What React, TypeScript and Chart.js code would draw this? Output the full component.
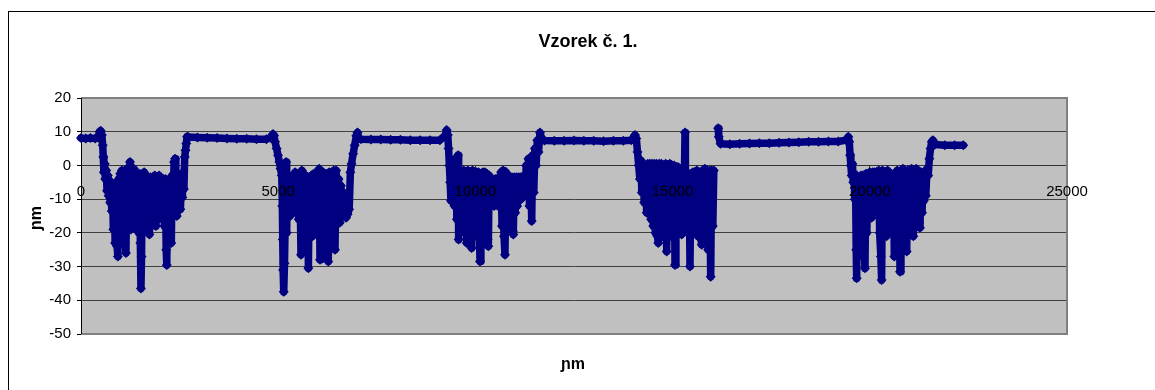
import React, { useEffect, useRef } from "react";
import { Chart, registerables } from "chart.js";

Chart.register(...registerables);

const TITLE = "Vzorek č. 1.";
const X_TITLE = "ɲm";
const Y_TITLE = "ɲm";
const X_TICKS = [0, 5000, 10000, 15000, 20000, 25000];
const Y_TICKS = [-50, -40, -30, -20, -10, 0, 10, 20];
const NAVY = "#000080";
const FONT = "'Liberation Sans', Arial, sans-serif";

type P = [number, number];

const plateau1: P[] = [[0, 8.1], [120, 8.0], [240, 8.1], [360, 8.0], [440, 8.2]];

const pit1: P[] = [
  [470, 10.0], [500, 10.3], [530, 9.0], [550, 6.0], [565, 2.5], [580, -2.0], [600, 0.5], [615, -4.0],
  [640, -1.5], [660, -7.5], [680, -3.0], [700, -9.0], [720, -4.5], [740, -11.0], [760, -5.0], [780, -13.5],
  [800, -6.5], [820, -19.0], [840, -5.5], [865, -23.0], [885, -6.0], [915, -24.0], [935, -27.0], [955, -4.0],
  [975, -20.0], [995, -2.5], [1015, -16.0], [1035, -1.5], [1060, -14.0], [1080, -2.5], [1110, -21.0],
  [1140, -26.0], [1160, -1.0], [1180, -18.0], [1200, -3.5], [1220, -15.0], [1242, 1.0], [1265, -19.0],
  [1290, -2.0], [1315, -14.0], [1340, -1.0], [1365, -18.5], [1390, -2.0], [1415, -15.0], [1440, -3.0],
  [1465, -20.0], [1490, -2.5], [1505, -23.0], [1520, -36.5], [1535, -27.0], [1550, -4.0], [1575, -16.0],
  [1600, -2.0], [1625, -19.5], [1650, -3.0], [1680, -17.0], [1705, -4.0], [1735, -20.5], [1760, -3.5],
  [1790, -15.0], [1815, -4.0], [1845, -17.5], [1870, -3.0], [1900, -18.0], [1925, -5.0], [1955, -16.0],
  [1980, -3.0], [2005, -14.0], [2035, -5.0], [2060, -12.0], [2090, -4.0], [2115, -18.0], [2140, -4.0],
  [2160, -25.0], [2175, -29.5], [2195, -5.0], [2220, -18.0], [2245, -6.0], [2270, -16.0], [2290, -23.0],
  [2310, -3.0], [2335, -12.0], [2360, 1.0], [2385, 2.0], [2405, -10.0], [2430, -15.0], [2450, -4.0],
  [2470, -9.0], [2495, -4.5], [2520, -13.0], [2545, -6.0], [2570, -9.5], [2590, -2.0], [2610, -7.0],
  [2630, 2.5], [2650, 4.5], [2670, 6.5], [2690, 8.5],
];

const plateau2: P[] = [
  [2720, 8.4], [2950, 8.3], [3200, 8.2], [3450, 8.1], [3700, 8.0], [3950, 7.9], [4200, 7.9],
  [4450, 7.8], [4700, 7.8], [4800, 8.2],
];

const pit2: P[] = [
  [4868, 9.3], [4895, 8.8], [4920, 7.0], [4960, 5.0], [4995, 3.0], [5030, 1.0], [5060, -1.0], [5090, -3.0],
  [5105, -12.0], [5115, -22.0], [5125, -31.0], [5140, -37.5], [5160, -29.0], [5180, -14.0], [5200, 1.0],
  [5215, -20.0], [5230, -5.0], [5250, -12.0], [5275, -3.5], [5300, -15.0], [5325, -4.0], [5350, -14.0],
  [5375, -3.0], [5400, -12.0], [5430, -2.0], [5460, -14.0], [5490, -3.0], [5520, -16.0], [5550, -4.0],
  [5578, -26.5], [5600, -1.5], [5625, -15.0], [5650, -4.0], [5675, -18.0], [5700, -3.0], [5730, -20.0],
  [5750, -5.0], [5765, -30.5], [5790, -4.0], [5815, -20.0], [5840, -3.0], [5870, -21.0], [5900, -2.5],
  [5930, -18.0], [5960, -3.0], [5990, -20.5], [6020, -1.5], [6040, -1.0], [6060, -28.0], [6085, -3.0],
  [6110, -20.0], [6140, -2.0], [6165, -21.0], [6190, -3.0], [6220, -18.0], [6250, -2.5], [6270, -28.5],
  [6295, -2.0], [6320, -20.0], [6350, -3.0], [6380, -18.0], [6410, -1.5], [6440, -25.0], [6470, -1.5],
  [6500, -12.0], [6530, -4.0], [6560, -17.0], [6590, -6.0], [6620, -14.0], [6650, -8.0], [6680, -15.0],
  [6720, -15.5], [6760, -14.5], [6800, -13.0], [6830, -2.0], [6860, 0.5], [6900, 3.5], [6940, 6.0],
  [6980, 8.8], [7010, 9.8], [7040, 8.0],
];

const plateau3: P[] = [
  [7100, 7.8], [7350, 7.7], [7600, 7.7], [7850, 7.6], [8100, 7.6], [8350, 7.5], [8600, 7.5],
  [8850, 7.5], [9100, 7.5], [9200, 8.5],
];

const pit3: P[] = [
  [9240, 9.0], [9272, 10.5], [9300, 9.0], [9320, 5.0], [9340, 0.0], [9360, -5.0], [9380, -10.5],
  [9400, -3.0], [9420, -9.0], [9445, 0.0], [9470, -12.0], [9500, 2.0], [9530, -16.0], [9560, 3.0],
  [9575, -22.0], [9600, -1.5], [9625, -15.0], [9650, -2.0], [9680, -18.0], [9705, -1.5], [9740, -20.0],
  [9765, -2.0], [9780, -23.0], [9805, -1.5], [9830, -17.0], [9855, -2.0], [9880, -20.0], [9905, -24.5],
  [9925, -1.5], [9950, -19.0], [9975, -2.0], [10000, -17.0], [10025, -2.0], [10050, -21.0], [10075, -2.0],
  [10100, -20.0], [10117, -28.5], [10140, -2.5], [10165, -18.0], [10190, -2.0], [10215, -21.0],
  [10240, -2.0], [10265, -20.0], [10290, -2.5], [10310, -22.0], [10328, -24.0], [10350, -3.0],
  [10375, -12.0], [10400, -4.5], [10425, -11.0], [10450, -4.5], [10475, -12.0], [10500, -4.0],
  [10525, -10.0], [10550, -4.5], [10575, -12.0], [10600, -3.5], [10625, -9.0], [10650, -2.0],
  [10675, -18.0], [10700, -1.5], [10725, -21.0], [10750, -26.5], [10775, -2.0], [10800, -15.0],
  [10825, -3.0], [10850, -16.0], [10875, -3.5], [10900, -18.0], [10925, -3.5], [10950, -19.5],
  [10961, -20.5], [10985, -3.5], [11010, -14.0], [11035, -3.5], [11060, -12.0], [11085, -3.5],
  [11110, -9.0], [11135, -3.5], [11160, -10.0], [11185, -3.5], [11210, -9.0], [11235, -3.0],
  [11260, -8.0], [11290, 0.0], [11320, -9.0], [11345, 2.0], [11370, -12.0], [11400, 1.0],
  [11428, -16.5], [11450, 3.0], [11480, -8.0], [11510, 5.0], [11540, 0.0], [11570, 7.5], [11600, 4.0],
  [11638, 9.8], [11680, 8.0],
];

const plateau4: P[] = [
  [11750, 7.4], [12000, 7.3], [12250, 7.3], [12500, 7.4], [12750, 7.3], [13000, 7.3], [13250, 7.2],
  [13500, 7.3], [13750, 7.3], [13950, 7.5],
];

const pit4: P[] = [
  [14047, 9.0], [14080, 8.0], [14110, 4.0], [14140, 0.0], [14170, -4.0], [14195, 1.5], [14220, -8.0],
  [14250, 0.5], [14280, -11.0], [14310, -1.0], [14343, -14.0], [14370, 0.5], [14400, -12.0], [14425, 0.5],
  [14455, -16.0], [14480, 0.5], [14510, -18.0], [14535, 0.5], [14565, -20.0], [14590, 0.5], [14615, -21.0],
  [14638, -23.0], [14660, 0.5], [14690, -19.0], [14715, 0.5], [14745, -21.0], [14770, 0.0], [14800, -20.0],
  [14825, 0.5], [14850, -25.5], [14875, 0.0], [14905, -18.0], [14930, 0.5], [14960, -21.0], [14985, 0.0],
  [15015, -20.0], [15040, 0.0], [15061, -29.5], [15085, -0.5], [15110, -18.0], [15135, -0.5], [15160, -16.0],
  [15185, -1.0], [15210, -19.0], [15230, -20.5], [15255, -1.5], [15280, -14.0], [15300, -2.0],
  [15315, 9.8], [15325, -1.5], [15345, -15.0], [15370, -2.5], [15395, -20.0], [15420, -3.0],
  [15441, -30.0], [15465, -2.5], [15490, -18.0], [15515, -2.0], [15540, -20.0], [15565, -2.0],
  [15590, -17.0], [15615, -1.5], [15640, -21.0], [15665, -2.0], [15700, -20.0], [15737, -23.5],
  [15760, -1.5], [15790, -15.0], [15815, -1.0], [15845, -20.0], [15870, -1.5], [15900, -25.0],
  [15935, -1.5], [15966, -33.0], [15990, -1.5], [16020, -18.0], [16045, -1.5],
];

const plateau5: P[] = [
  [16155, 11.0], [16170, 8.5], [16215, 6.4], [16450, 6.3], [16700, 6.4], [16950, 6.5], [17200, 6.6],
  [17450, 6.6], [17700, 6.7], [17950, 6.8], [18200, 6.9], [18450, 7.0], [18700, 7.0], [18950, 7.1],
  [19200, 7.1], [19400, 7.5],
];

const pit5: P[] = [
  [19455, 8.5], [19480, 7.0], [19500, 3.0], [19520, 0.0], [19540, -3.0], [19560, 0.5], [19580, -5.0],
  [19600, -2.5], [19620, -10.0], [19640, -6.0], [19655, -25.0], [19667, -33.5], [19690, -8.0],
  [19710, -27.0], [19730, -5.0], [19750, -25.0], [19775, -3.0], [19800, -23.0], [19825, -3.0],
  [19850, -22.0], [19878, -30.5], [19900, -2.5], [19925, -20.0], [19950, -2.5], [19975, -15.0],
  [20000, -2.0], [20030, -14.0], [20047, -15.5], [20070, -2.0], [20100, -12.0], [20125, -2.0],
  [20150, -10.0], [20175, -2.0], [20200, -14.0], [20225, -1.5], [20250, -20.0], [20280, -27.0],
  [20300, -34.0], [20320, -1.5], [20345, -18.0], [20370, -2.0], [20400, -20.0], [20427, -21.0],
  [20450, -1.5], [20475, -15.0], [20500, -2.5], [20525, -18.0], [20550, -2.5], [20575, -20.0],
  [20600, -3.0], [20622, -27.0], [20645, -2.5], [20670, -18.0], [20695, -1.5], [20720, -20.0],
  [20745, -2.0], [20766, -31.5], [20790, -1.5], [20815, -17.0], [20840, -1.0], [20865, -20.0],
  [20890, -1.5], [20915, -21.0], [20935, -25.5], [20960, -1.5], [20985, -17.0], [21010, -1.5],
  [21035, -19.0], [21060, -1.0], [21085, -17.0], [21104, -21.0], [21125, -1.5], [21150, -16.0],
  [21175, -1.0], [21200, -18.0], [21225, -1.5], [21250, -17.0], [21273, -18.5], [21300, -2.0],
  [21325, -14.0], [21350, -3.0], [21370, -10.5], [21395, -4.0], [21420, -9.0], [21450, -1.0],
  [21480, -3.0], [21510, 2.0], [21540, 5.0], [21570, 7.0], [21600, 7.5],
];

const plateau6: P[] = [[21650, 6.2], [21900, 6.0], [22150, 6.0], [22370, 6.0]];

const framePlugin = {
  id: "frame",
  beforeDraw(chart: any) {
    const { ctx, chartArea: a, width, height } = chart;
    ctx.save();
    ctx.fillStyle = "#ffffff";
    ctx.fillRect(0, 0, width, height);
    ctx.strokeStyle = "#000000";
    ctx.lineWidth = 1;
    ctx.strokeRect(8.5, 11.5, width + 40, height + 40);
    ctx.fillStyle = "#c0c0c0";
    ctx.fillRect(a.left, a.top, a.right - a.left, a.bottom - a.top);
    ctx.restore();
  },
  beforeDatasetsDraw(chart: any) {
    const { ctx, chartArea: a } = chart;
    ctx.save();
    ctx.strokeStyle = "#808080";
    ctx.lineWidth = 2;
    ctx.beginPath();
    ctx.moveTo(a.left, a.top);
    ctx.lineTo(a.right, a.top);
    ctx.lineTo(a.right, a.bottom);
    ctx.lineTo(a.left, a.bottom);
    ctx.stroke();
    ctx.strokeStyle = "#000000";
    ctx.lineWidth = 1;
    ctx.beginPath();
    ctx.moveTo(a.left + 0.5, a.top);
    ctx.lineTo(a.left + 0.5, a.bottom);
    ctx.stroke();
    ctx.restore();
  },
  afterDraw(chart: any) {
    const { ctx } = chart;
    ctx.save();
    ctx.fillStyle = "#000000";
    ctx.font = `bold 18px ${FONT}`;
    ctx.textAlign = "center";
    ctx.textBaseline = "alphabetic";
    ctx.fillText(TITLE, 588, 47);
    ctx.font = `bold 16px ${FONT}`;
    ctx.textBaseline = "middle";
    ctx.fillText(X_TITLE, 573, 365);
    ctx.translate(37, 218);
    ctx.rotate(-Math.PI / 2);
    ctx.fillText(Y_TITLE, 0, 0);
    ctx.restore();
  },
};

export default function App() {
  const ref = useRef<HTMLCanvasElement>(null);
  useEffect(() => {
    if (!ref.current) return;
    const toPts = (arr: P[]) => arr.map(([x, y]) => ({ x, y }));
    const partA = [...plateau1, ...pit1, ...plateau2, ...pit2, ...plateau3, ...pit3, ...plateau4, ...pit4];
    const partB = [...plateau5, ...pit5, ...plateau6];
    const common: any = {
      borderColor: NAVY,
      backgroundColor: NAVY,
      pointBackgroundColor: NAVY,
      borderWidth: 7.5,
      pointStyle: "rectRot",
      pointRadius: 5,
      pointBorderWidth: 0,
      showLine: true,
      tension: 0,
      clip: false,
      borderJoinStyle: "round",
      borderCapStyle: "round",
    };
    const chart = new Chart(ref.current, {
      type: "scatter",
      data: {
        datasets: [
          { ...common, label: "A", data: toPts(partA) },
          { ...common, label: "B", data: toPts(partB) },
        ],
      },
      options: {
        animation: false,
        responsive: false,
        devicePixelRatio: 1,
        layout: { padding: { top: 98, bottom: 56, left: 0, right: 88 } },
        plugins: { legend: { display: false }, title: { display: false }, tooltip: { enabled: false } },
        scales: {
          x: {
            type: "linear",
            position: { y: 0 } as any,
            min: 0,
            max: 25000,
            afterBuildTicks: (s: any) => {
              s.ticks = X_TICKS.map((v) => ({ value: v }));
            },
            grid: { drawOnChartArea: false, drawTicks: true, tickLength: 4, tickColor: "#333333", color: "#333333" },
            border: { display: true, color: "#333333", width: 1 },
            ticks: {
              z: 1,
              color: "#000000",
              font: { family: FONT, size: 15 },
              padding: 13,
              maxRotation: 0,
              autoSkip: false,
              callback: (v: any) => String(v),
            },
          },
          y: {
            type: "linear",
            position: "left",
            min: -50,
            max: 20,
            afterBuildTicks: (s: any) => {
              s.ticks = Y_TICKS.map((v) => ({ value: v }));
            },
            afterFit: (s: any) => {
              s.width = 81;
            },
            grid: { color: "#404040", lineWidth: 1, drawTicks: true, tickLength: 4, tickColor: "#000000" },
            border: { display: true, color: "#000000", width: 1 },
            ticks: {
              color: "#000000",
              font: { family: FONT, size: 15 },
              padding: 6,
              callback: (v: any) => String(v),
            },
          },
        },
      },
      plugins: [framePlugin],
    });
    return () => chart.destroy();
  }, []);
  return (
    <div style={{ position: "absolute", left: 0, top: 0, width: 1155, height: 390 }}>
      <canvas ref={ref} width={1155} height={390} style={{ display: "block" }} />
    </div>
  );
}
